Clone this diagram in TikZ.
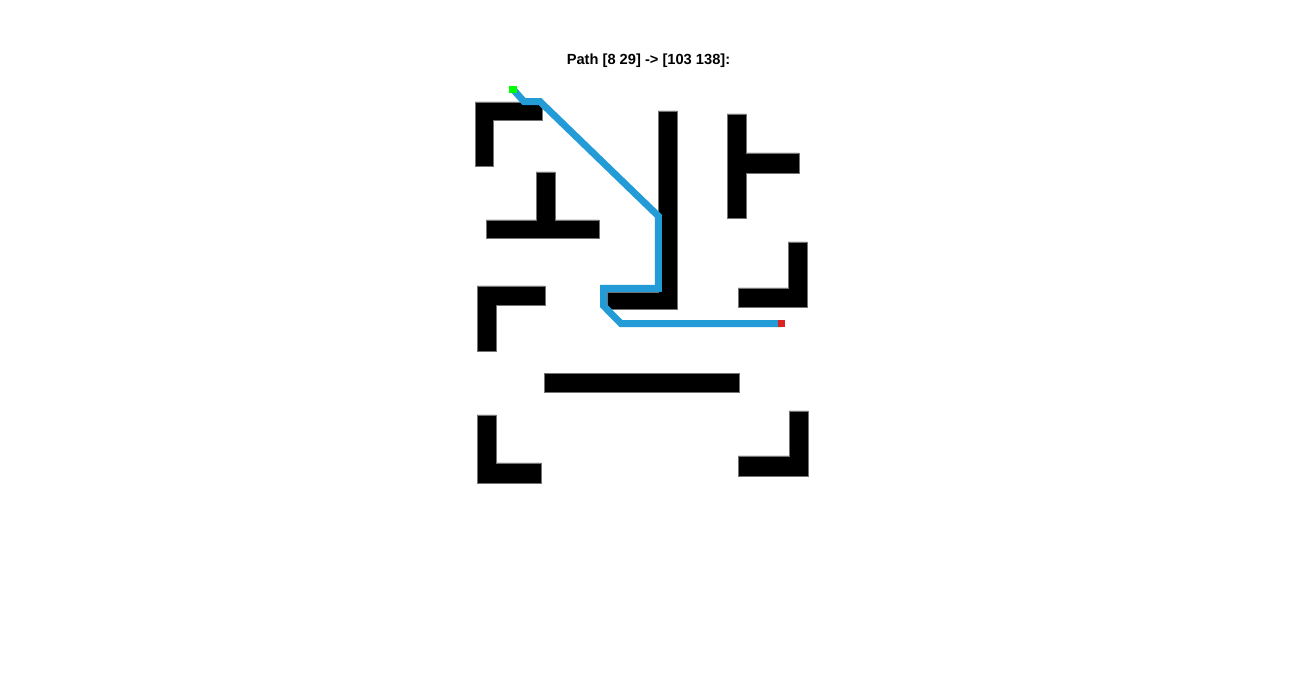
\documentclass[tikz,border=0pt]{standalone}
\usepackage{fontspec}
\setmainfont{Liberation Sans}

\definecolor{pathblue}{RGB}{35,155,215}
\definecolor{goalred}{RGB}{220,35,35}
\definecolor{startgreen}{RGB}{0,255,0}

\begin{document}
\begin{tikzpicture}[x=0.75pt,y=-0.75pt,
  wall/.style={fill=black,draw=black!55,line width=0.4pt},
  route/.style={pathblue,line width=5.2pt,line join=miter},
  marker/.style={minimum size=5.4pt,inner sep=0pt,outer sep=0pt}]
\useasboundingbox (0,0) rectangle (1304,691);

% Title
\node[font=\fontsize{11}{13}\selectfont\bfseries] (title) at (648.5,60.5)
  {Path [8 29] -> [103 138]:};

% Walls
\fill[wall] (475,102) -- (542,102) -- (542,120) -- (493,120) -- (493,166) -- (475,166) -- cycle;
\fill[wall] (536,172) -- (555,172) -- (555,220) -- (599,220) -- (599,238) -- (486,238) -- (486,220) -- (536,220) -- cycle;
\fill[wall] (658,111) -- (677,111) -- (677,309) -- (607,309) -- (607,292) -- (658,292) -- cycle;
\fill[wall] (727,114) -- (746,114) -- (746,153) -- (799,153) -- (799,173) -- (746,173) -- (746,218) -- (727,218) -- cycle;
\fill[wall] (788,242) -- (807,242) -- (807,307) -- (738,307) -- (738,288) -- (788,288) -- cycle;
\fill[wall] (477,286) -- (545,286) -- (545,305) -- (496,305) -- (496,351) -- (477,351) -- cycle;
\fill[wall] (544,373) rectangle (739,392);
\fill[wall] (477,415) -- (496,415) -- (496,463) -- (541,463) -- (541,483) -- (477,483) -- cycle;
\fill[wall] (789,411) -- (808,411) -- (808,476) -- (738,476) -- (738,456) -- (789,456) -- cycle;

% Start and goal
\coordinate (S) at (513,89.2);
\coordinate (G) at (781.7,323.6);

% Path
\draw[route] (S) -- (524,101.6) -- (540,101.6) -- (658.3,216) -- (658.3,288.3)
  -- (603.7,288.3) -- (603.7,306) -- (621,323.6) -- (G);

\node[marker,fill=startgreen] (start) at (S) {};
\node[marker,fill=goalred] (goal) at (G) {};

\end{tikzpicture}
\end{document}
